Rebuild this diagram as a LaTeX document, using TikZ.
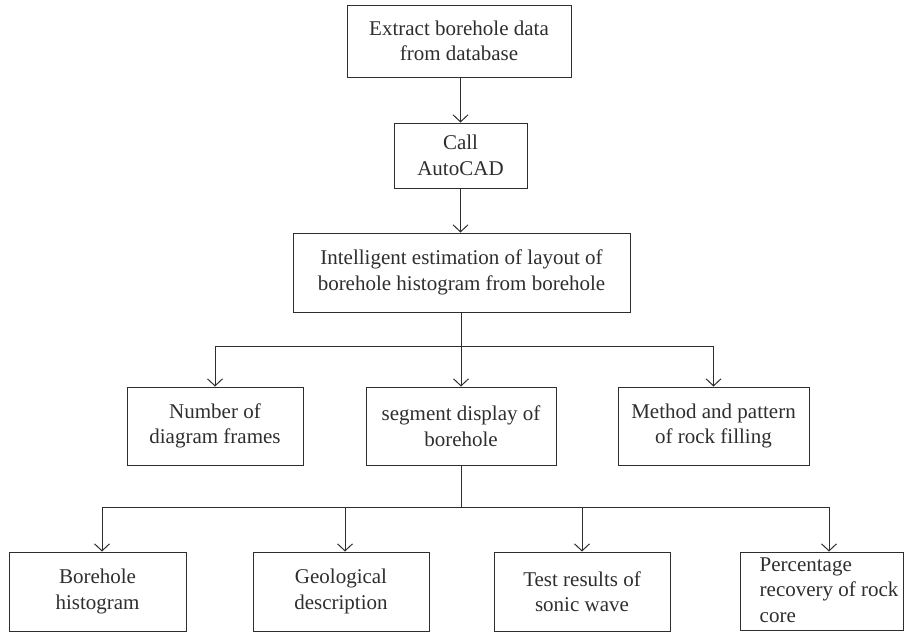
\documentclass[tikz,border=0pt]{standalone}
\usepackage{fontspec}
\setmainfont{Liberation Serif}
\usetikzlibrary{arrows.meta}
\definecolor{ink}{HTML}{2E2E2E}
\tikzset{
  box/.style={draw=ink, line width=1pt, rectangle, inner sep=0pt, align=center,
    text=ink, font=\fontsize{21}{25.5}\selectfont},
  link/.style={draw=ink, line width=1pt, -{Straight Barb[length=7pt,width=15pt,line width=1pt]}},
  plain/.style={draw=ink, line width=1pt}
}
\begin{document}
\begin{tikzpicture}[x=1pt,y=1pt]
\useasboundingbox (0,0) rectangle (904,-633);
% main chain
\node[box, minimum width=224pt, minimum height=72pt] (extract) at (459,-41) {Extract borehole data\\from database};
\node[box, minimum width=133pt, minimum height=65pt] (call) at (460.5,-155.5) {Call\\AutoCAD};
\node[box, minimum width=337pt, minimum height=79pt] (layout) at (461.5,-272.5) {Intelligent estimation of layout of\\borehole histogram from borehole};
% second row
\node[box, minimum width=176pt, minimum height=78pt] (frames) at (215,-426) {Number of\\diagram frames};
\node[box, minimum width=190pt, minimum height=78pt] (segment) at (461,-426) {segment display of\\borehole};
\node[box, minimum width=191pt, minimum height=78pt] (method) at (713.5,-426) {Method and pattern\\of rock filling};
% third row
\node[box, minimum width=177pt, minimum height=79pt] (hist) at (97.5,-591.5) {Borehole\\histogram};
\node[box, minimum width=176pt, minimum height=79pt] (geo) at (341,-591.5) {Geological\\description};
\node[box, minimum width=176pt, minimum height=79pt] (sonic) at (582,-591.5) {Test results of\\sonic wave};
\node[box, minimum width=163pt, minimum height=78pt] (core) at (821.5,-591) {};
\node[text=ink, font=\fontsize{21}{25.5}\selectfont, align=left, anchor=west, inner sep=0pt] (coretext) at ([xshift=20pt,yshift=1pt]core.west) {Percentage\\recovery of rock\\core};
% connectors
\draw[link] (extract.south -| call.north) -- (call.north);
\draw[link] (call.south) -- (call.south |- layout.north);
\coordinate (fork1) at (461,-346);
\draw[plain] (layout.south -| fork1) -- (fork1);
\draw[link] (fork1) -| (frames.north);
\draw[link] (fork1) -- (segment.north);
\draw[link] (fork1) -| (method.north);
\coordinate (fork2) at (461,-507);
\draw[plain] (segment.south) -- (fork2);
\draw[link] (fork2) -| ([xshift=4.5pt]hist.north);
\draw[link] (fork2) -| ([xshift=4pt]geo.north);
\draw[link] (fork2) -| (sonic.north);
\draw[link] (fork2) -| ([xshift=7.5pt]core.north);
\end{tikzpicture}
\end{document}
